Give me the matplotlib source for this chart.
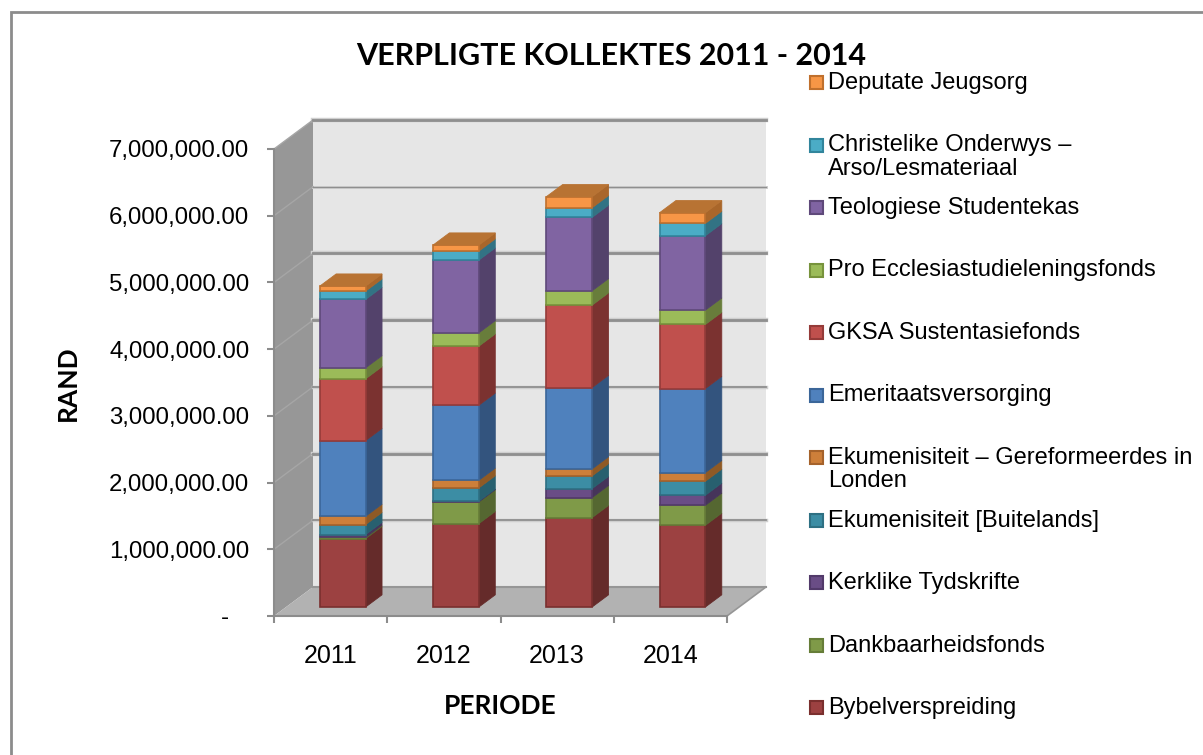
import matplotlib
matplotlib.use('Agg')
import matplotlib.pyplot as plt
from matplotlib.patches import Polygon, Rectangle
from matplotlib.ticker import FuncFormatter, FixedLocator

W = 1203
H = 755

years = ['2011', '2012', '2013', '2014']
names = ['Bybelverspreiding', 'Dankbaarheidsfonds', 'Kerklike Tydskrifte',
         'Ekumenisiteit [Buitelands]', 'Ekumenisiteit \u2013 Gereformeerdes in\nLonden',
         'Emeritaatsversorging', 'GKSA Sustentasiefonds', 'Pro Ecclesiastudieleningsfonds',
         'Teologiese Studentekas', 'Christelike Onderwys \u2013\nArso/Lesmateriaal',
         'Deputate Jeugsorg']

# values per fund, one number per year
bybel = [1025000, 1250000, 1340000, 1225000]
dank = [20000, 325000, 300000, 300000]
kerk = [40000, 10000, 135000, 150000]
ekum_buit = [150000, 200000, 190000, 210000]
ekum_gere = [125000, 115000, 105000, 130000]
emeritaat = [1135000, 1125000, 1220000, 1260000]
gksa = [925000, 885000, 1235000, 960000]
pro_eccl = [165000, 200000, 215000, 215000]
teologie = [1025000, 1090000, 1100000, 1115000]
christelik = [125000, 135000, 145000, 185000]
jeugsorg = [75000, 90000, 165000, 160000]
series = [bybel, dank, kerk, ekum_buit, ekum_gere, emeritaat, gksa, pro_eccl,
          teologie, christelik, jeugsorg]

front = ['#9C4141', '#7F9A48', '#6A4D86', '#3C8DA4', '#CD7F3A', '#4F81BD',
         '#C0504D', '#9BBB59', '#8064A2', '#4BACC6', '#F79646']
edge = ['#7A2F2E', '#667D38', '#523A6A', '#2E7083', '#A5622B', '#3B6699',
        '#953B39', '#77933C', '#5F497A', '#31859C', '#C0702D']
side = ['#652B2A', '#556731', '#46345A', '#28606F', '#8F5A25', '#33547E',
        '#7B3230', '#687D3B', '#53426B', '#327384', '#A9662A']
top_colour = '#B87333'

fig = plt.figure(figsize=(W / 100, H / 100), dpi=100, facecolor='white')
plt.rcParams['font.family'] = ['Liberation Sans', 'DejaVu Sans']

# front plane of the box: x 274-727, y 616-149 px
ax = fig.add_axes([274 / W, (H - 616) / H, 453 / W, 467 / H])
ax.set_xlim(0, 4)
ax.set_ylim(0, 7000000)
ax.patch.set_visible(False)

# oblique depth, d=0 front, d=1 back wall
DX = 39 / 113.25
DY = 29 / 467 * 7000000


def proj(x, y, d):
    return (x + d * DX, y + d * DY)


def quad(pts, **kw):
    ax.add_patch(Polygon([proj(*p) for p in pts], closed=True, clip_on=False, **kw))


# walls and floor
quad([(0, 0, 1), (4, 0, 1), (4, 7000000, 1), (0, 7000000, 1)], fc='#E6E6E6', ec='none', zorder=1)
quad([(0, 0, 0), (0, 0, 1), (0, 7000000, 1), (0, 7000000, 0)], fc='#979797', ec='none', zorder=1)
quad([(0, 0, 0), (4, 0, 0), (4, 0, 1), (0, 0, 1)], fc='#B2B2B2', ec='none', zorder=1.5)

# the gridlines are not all equally heavy in the picture
grid_lw = [1.3, 2.0, 1.3, 2.0, 2.0, 0.9, 2.0]
for i, v in enumerate(range(1000000, 7000001, 1000000)):
    x0, y0 = proj(0, v, 0)
    x1, y1 = proj(0, v, 1)
    x2, y2 = proj(4, v, 1)
    ax.plot([x0, x1], [y0, y1], color='#A6A6A6', lw=1.0, clip_on=False, zorder=2)
    ax.plot([x1, x2], [y1, y2], color='#CFCFCF', lw=grid_lw[i] + 1.2, clip_on=False, zorder=1.8)
    ax.plot([x1, x2], [y1, y2], color='#8F8F8F', lw=grid_lw[i], clip_on=False, zorder=2)
x1, y1 = proj(0, 0, 1)
x2, y2 = proj(4, 0, 1)
ax.plot([x1, x2], [y1, y2], color='#969696', lw=1.5, clip_on=False, zorder=2)
x1, y1 = proj(4, 0, 0)
x2, y2 = proj(4, 0, 1)
ax.plot([x1, x2], [y1, y2], color='#969696', lw=1.2, clip_on=False, zorder=2)

# stacked bars
bar_w = 0.405
d0 = 0.31
d1 = 0.73
for j in range(len(years)):
    left = j + 0.5 - bar_w / 2
    right = j + 0.5 + bar_w / 2
    base = 0
    for s in range(len(series)):
        top = base + series[s][j]
        quad([(right, base, d0), (right, base, d1), (right, top, d1), (right, top, d0)],
             fc=side[s], ec=side[s], lw=0.6, zorder=3 + s * 0.01)
        quad([(left, base, d0), (right, base, d0), (right, top, d0), (left, top, d0)],
             fc=front[s], ec=edge[s], lw=1.2, zorder=3.5 + s * 0.01)
        base = top
    quad([(left, base, d0), (right, base, d0), (right, base, d1), (left, base, d1)],
         fc=top_colour, ec=top_colour, lw=0.6, zorder=4)

# axes, ticks and labels
for k in ['top', 'right']:
    ax.spines[k].set_visible(False)
for k in ['left', 'bottom']:
    ax.spines[k].set_color('#8C8C8C')
    ax.spines[k].set_linewidth(1.5)
    ax.spines[k].set_zorder(5)


def rand_fmt(v, pos):
    if v == 0:
        return '-' + ' ' * 3
    return '{:,.2f}'.format(v)


ax.yaxis.set_major_locator(FixedLocator(range(0, 7000001, 1000000)))
ax.yaxis.set_major_formatter(FuncFormatter(rand_fmt))
ax.tick_params(axis='y', length=5, width=1.5, color='#8C8C8C', labelsize=17.3, pad=12.7, labelcolor='black')
ax.set_xticks(range(5))
ax.set_xticklabels([])
ax.set_xticks([0.5, 1.5, 2.5, 3.5], years, minor=True)
ax.tick_params(axis='x', which='major', length=5, width=1.5, color='#8C8C8C')
ax.tick_params(axis='x', which='minor', length=0, labelsize=18, pad=20, labelcolor='black')

bold = dict(family='Lato', fontweight='bold', color='black')
ax.set_ylabel('RAND', fontsize=19, **bold)
ax.yaxis.set_label_coords((80 - 274) / 453, (616 - 383) / 467)
ax.set_xlabel('PERIODE', fontsize=19, **bold)
ax.xaxis.set_label_coords((500 - 274) / 453, (616 - 694) / 467)
fig.text(611 / W, (H - 56) / H, 'VERPLIGTE KOLLEKTES 2011 - 2014', fontsize=21.9,
         ha='center', va='center', **bold)

# legend, listed from the top series down
pitch = 62.5
for n, s in enumerate(range(len(names) - 1, -1, -1)):
    y = 82 + n * pitch
    fig.patches.append(Rectangle((810 / W, (H - y - 7) / H), 13 / W, 13 / H,
                                 transform=fig.transFigure, fc=front[s], ec=edge[s], lw=1.5))
    fig.text(828 / W, (H - y + 10) / H, names[s], fontsize=17, color='black', ha='left', va='top',
             linespacing=1.08)

# chart frame, open at the right and bottom of the crop
fig.patches.append(Rectangle((10.7 / W, -0.02), 1.1, (H - 12) / H + 0.02, transform=fig.transFigure,
                             fc='none', ec='#8C8C8C', lw=2))

fig.savefig('out.png', dpi=100, facecolor='white')
